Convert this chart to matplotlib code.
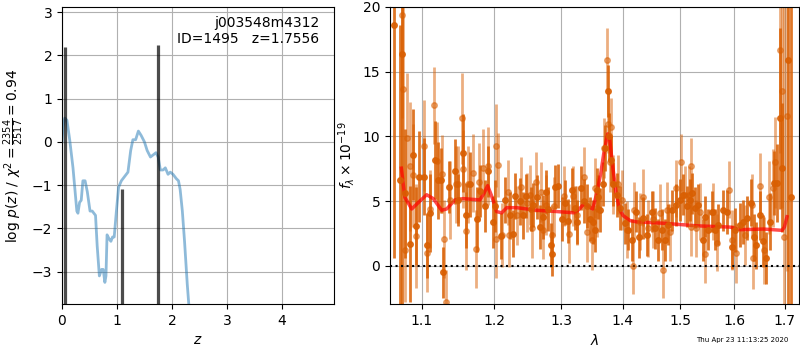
import matplotlib
matplotlib.use('Agg')
import matplotlib.pyplot as plt
from matplotlib.ticker import FixedLocator, FormatStrFormatter, NullLocator

# redshift probability
z_grid = [0.0, 0.02, 0.05, 0.09, 0.14, 0.2, 0.27, 0.29, 0.32, 0.35, 0.38, 0.42,
          0.46, 0.51, 0.55, 0.61, 0.64, 0.68, 0.72, 0.75, 0.78, 0.8, 0.82, 0.86,
          0.89, 0.92, 0.95, 0.99, 1.03, 1.08, 1.14, 1.2, 1.25, 1.29, 1.34, 1.39,
          1.44, 1.5, 1.55, 1.61, 1.66, 1.71, 1.75, 1.79, 1.84, 1.88, 1.93, 1.97,
          2.02, 2.08, 2.12, 2.15, 2.19, 2.23, 2.28, 2.31]
log_pz = [0.0, 0.35, 0.55, 0.5, 0.05, -0.6, -1.6, -1.65, -1.4, -1.35, -0.9, -0.9,
          -1.15, -1.6, -1.6, -1.7, -2.4, -3.1, -2.95, -2.95, -3.25, -3.1, -2.15, -2.25,
          -2.3, -2.2, -2.2, -1.6, -1.05, -0.9, -0.8, -0.7, -0.2, 0.05, 0.05, 0.25,
          0.15, 0.0, -0.2, -0.35, -0.3, -0.25, -0.35, -0.65, -0.65, -0.6, -0.75, -0.7,
          -0.75, -0.85, -0.9, -1.1, -1.6, -2.3, -3.3, -3.8]
peak_z = [0.06, 1.085, 1.7556]
peak_top = [2.2, -1.1, 2.25]

# spectrum, first beam (darker)
dark_wave = [1.0639, 1.0712, 1.0741, 1.0784, 1.0849, 1.0884, 1.0928, 1.096, 1.103, 1.107,
             1.1106, 1.1182, 1.1219, 1.1251, 1.1288, 1.1369, 1.1447, 1.1483, 1.1553, 1.16,
             1.1656, 1.1749, 1.1796, 1.1866, 1.1903, 1.1984, 1.2008, 1.209, 1.2155, 1.2228,
             1.2268, 1.2302, 1.2376, 1.2425, 1.2465, 1.2535, 1.2575, 1.2626, 1.2676, 1.2717,
             1.2768, 1.2803, 1.284, 1.2855, 1.2907, 1.2958, 1.3011, 1.3062, 1.3114, 1.3166,
             1.3219, 1.3256, 1.331, 1.3362, 1.3416, 1.3459, 1.3513, 1.354, 1.3567, 1.3594,
             1.3622, 1.3665, 1.3703, 1.3758, 1.3775, 1.3798, 1.3842, 1.3898, 1.3953, 1.4037,
             1.4093, 1.415, 1.4223, 1.428, 1.4348, 1.4417, 1.4493, 1.455, 1.4609, 1.4668,
             1.4727, 1.4786, 1.4845, 1.4923, 1.4993, 1.5053, 1.5114, 1.5174, 1.5205, 1.5265,
             1.5326, 1.5407, 1.545, 1.5512, 1.5574, 1.5636, 1.5699, 1.5793, 1.5858, 1.5953,
             1.6017, 1.61, 1.6177, 1.6255, 1.6321, 1.6386, 1.6425, 1.6491, 1.6558, 1.6624,
             1.6691, 1.6772, 1.6841, 1.6895, 1.6943, 1.7059, 1.7115]
dark_flux = [18.6, 6.6, 16.4, 5.6, 1.7, 8.6, 3.1, 6.9, 6.9, 1.6,
             4.1, 8.2, 6.6, 6.6, -0.5, 6.1, 7.3, 5.1, 8.7, 3.9,
             6.3, 3.6, 5.8, 4.6, 7.3, 3.4, 4.6, 2.3, 5.1, 3.9,
             2.5, 5.4, 5.0, 3.9, 5.4, 4.4, 4.7, 5.3, 3.0, 3.8,
             5.7, 4.4, 1.6, 0.9, 6.1, 6.2, 3.6, 4.9, 3.5, 5.9,
             4.5, 3.4, 6.0, 5.0, 4.6, 3.6, 3.4, 2.8, 5.9, 5.3,
             4.3, 6.3, 9.1, 13.5, 10.0, 8.2, 6.3, 5.5, 4.5, 3.3,
             2.8, 2.0, 4.2, 2.2, 3.7, 2.4, 4.2, 2.9, 2.0, 2.8,
             2.0, 3.2, 4.3, 4.7, 5.1, 5.5, 4.6, 5.1, 5.6, 4.5,
             4.7, 2.0, 3.8, 2.8, 4.2, 2.8, 3.2, 4.3, 4.2, 1.5,
             2.8, 3.2, 3.4, 3.7, 4.9, 2.2, 1.6, 3.9, 1.9, 0.6,
             3.4, 6.4, 6.4, 11.4, 7.6, 15.9, 5.3]
dark_err = [18, 12, 20, 5, 4.5, 3.5, 3, 3.5, 3, 2.5,
            3, 3, 3, 2.5, 2, 2, 2.5, 2, 3, 2.5,
            2.5, 2.5, 2, 2, 2, 2, 2, 1.8, 1.8, 1.8,
            1.8, 1.8, 1.8, 1.8, 1.7, 1.7, 1.7, 1.7, 1.7, 1.7,
            1.7, 1.7, 1.7, 1.7, 1.7, 1.7, 1.7, 1.7, 1.7, 1.7,
            1.7, 1.7, 1.7, 1.7, 1.7, 1.7, 1.7, 1.7, 1.7, 1.7,
            1.7, 1.7, 1.8, 2.0, 1.8, 1.8, 1.7, 1.7, 1.7, 1.6,
            1.6, 1.6, 1.6, 1.6, 1.6, 1.6, 1.6, 1.6, 1.6, 1.6,
            1.6, 1.6, 1.6, 1.6, 1.6, 1.6, 1.6, 1.6, 1.6, 1.6,
            1.6, 1.6, 1.6, 1.6, 1.6, 1.6, 1.6, 1.6, 1.7, 1.7,
            1.7, 1.7, 1.7, 1.7, 1.8, 1.8, 1.8, 1.9, 2.0, 2.0,
            2.2, 2.5, 3.0, 7, 5, 25, 20]

# spectrum, second beam (lighter)
light_wave = [1.074, 1.0755, 1.0784, 1.081, 1.0841, 1.0884, 1.0928, 1.1026, 1.1074, 1.1106,
              1.1169, 1.121, 1.1274, 1.1301, 1.132, 1.1378, 1.1455, 1.1493, 1.1549, 1.1555,
              1.1595, 1.1632, 1.1702, 1.1734, 1.1782, 1.1842, 1.1913, 1.2022, 1.202, 1.2055,
              1.2106, 1.2203, 1.2208, 1.2327, 1.2386, 1.2485, 1.2525, 1.255, 1.2615, 1.2686,
              1.2717, 1.2768, 1.2855, 1.2891, 1.3047, 1.3129, 1.3182, 1.3256, 1.3362, 1.3405,
              1.3487, 1.354, 1.3567, 1.3685, 1.3742, 1.3745, 1.3785, 1.3798, 1.3842, 1.3925,
              1.398, 1.4065, 1.4167, 1.4189, 1.4291, 1.4337, 1.4434, 1.452, 1.4638, 1.4684,
              1.4768, 1.4815, 1.4923, 1.5005, 1.5082, 1.5161, 1.5186, 1.5192, 1.5283, 1.5357,
              1.545, 1.5593, 1.5667, 1.5907, 1.5953, 1.6036, 1.6209, 1.634, 1.6372, 1.6501,
              1.6584, 1.6671, 1.6759, 1.6804, 1.6895, 1.6943, 1.699, 1.7043]
light_flux = [19.4, 13.7, 1.2, 9.9, 7.7, 7.0, 2.3, 9.3, 1.0, 4.4,
              12.4, 8.1, 7.1, 2.1, -2.8, 5.1, 6.3, 6.3, 11.4, 7.5,
              2.7, 6.3, 7.2, 1.3, 6.5, 7.6, 7.7, 9.3, 2.1, 7.8,
              2.4, 5.7, 2.4, 3.9, 6.1, 4.9, 5.5, 2.9, 6.5, 5.7,
              2.8, 4.7, 2.4, 4.6, 5.4, 2.5, 5.4, 3.9, 6.9, 2.6,
              2.0, 6.0, 4.5, 9.1, 15.9, 11.0, 8.0, 10.7, 6.3, 6.3,
              5.1, 2.8, 0.0, 4.3, 3.4, 5.3, 2.9, 3.6, 4.1, -0.3,
              4.3, 2.6, 6.0, 8.0, 5.5, 5.5, 7.7, 3.0, 2.9, 4.2,
              0.9, 4.2, 1.8, 5.9, 2.0, 1.0, 2.4, 4.7, 0.6, 6.2,
              1.2, 5.3, 6.0, 8.0, 16.7, 13.5, 2.2, 11.6]
light_err = [8, 7, 4, 5, 5, 4, 4, 3.5, 3, 3,
             3, 3, 3, 3, 2.5, 3, 3, 3, 3.5, 3,
             3, 3, 3, 3, 3, 3, 3, 3.2, 3, 2.5,
             2.5, 2.5, 2.5, 2.3, 2.3, 2.3, 2.3, 2.3, 2.3, 2.3,
             2.3, 2.3, 2.3, 2.3, 2.3, 2.3, 2.3, 2.3, 2.3, 2.3,
             2.3, 2.3, 2.3, 2.3, 2.5, 2.3, 2.3, 2.3, 2.3, 2.3,
             2.3, 2.2, 2.2, 2.2, 2.2, 2.2, 2.2, 2.2, 2.2, 2.2,
             2.2, 2.2, 2.2, 2.2, 2.2, 2.2, 2.2, 2.2, 2.2, 2.2,
             2.2, 2.2, 2.2, 2.2, 2.3, 2.3, 2.3, 2.4, 2.4, 2.5,
             2.6, 2.8, 3, 3.5, 8, 9, 20, 12]

# best-fit model
model_wave = [1.0735, 1.078, 1.0869, 1.0956, 1.1066, 1.1154, 1.1266, 1.1334, 1.1448, 1.1561,
              1.1795, 1.1852, 1.1905, 1.1962, 1.2034, 1.2107, 1.218, 1.2328, 1.2626, 1.2933,
              1.3219, 1.3287, 1.3362, 1.3432, 1.3503, 1.3567, 1.3632, 1.3686, 1.3747, 1.3775,
              1.383, 1.3887, 1.3943, 1.4, 1.4121, 1.4234, 1.4694, 1.5295, 1.5919, 1.6111,
              1.6571, 1.6943, 1.699, 1.7043]
model_flux = [7.55, 5.3, 4.4, 4.9, 5.5, 5.2, 4.3, 4.4, 5.1, 5.2,
              5.1, 5.6, 6.2, 5.4, 4.2, 4.1, 4.5, 4.5, 4.3, 4.2,
              4.1, 4.4, 4.8, 4.6, 4.4, 5.6, 7.1, 8.8, 10.2, 10.0,
              7.7, 5.6, 4.4, 3.9, 3.5, 3.4, 3.3, 3.1, 3.0, 2.8,
              2.85, 2.75, 3.0, 3.8]
wave_ticks = [1.1, 1.2, 1.3, 1.4, 1.5, 1.6, 1.7]

orange = '#d95f02'

fig = plt.figure(figsize=(8, 3.5), dpi=100)

ax1 = fig.add_axes([0.0775, 0.1314, 0.34, 0.8486])
ax1.plot(z_grid, log_pz, color='C0', alpha=0.5, lw=2)
ax1.vlines(peak_z, -4, peak_top, color='k', alpha=0.7, lw=2.3)
ax1.set_xlim(0, 4.95)
ax1.set_ylim(-3.75, 3.12)
ax1.grid()
ax1.text(0.945, 0.97, 'j003548m4312\nID=1495   z=1.7556', ha='right', va='top',
         transform=ax1.transAxes, fontsize=10)
ax1.set_xlabel(r'$z$')
ax1.set_ylabel(r'$\log\,p(z)$' + ' / ' + r'$\chi^2=\frac{2354}{2517}=0.94$')

ax2 = fig.add_axes([0.4875, 0.1314, 0.51125, 0.8486])
ax2.errorbar(light_wave, light_flux, light_err, marker='o', ms=4, ls='none',
             color=orange, alpha=0.5, elinewidth=2)
ax2.errorbar(dark_wave, dark_flux, dark_err, marker='o', ms=4, ls='none',
             color=orange, alpha=0.85, elinewidth=2)
ax2.plot(model_wave, model_flux, color='r', alpha=0.7, lw=2.5)
ax2.axhline(0, color='k', ls=':', lw=1.5)
ax2.set_xscale('log')
ax2.xaxis.set_major_locator(FixedLocator(wave_ticks))
ax2.xaxis.set_major_formatter(FormatStrFormatter('%.1f'))
ax2.xaxis.set_minor_locator(NullLocator())
ax2.set_xlim(1.059, 1.729)
ax2.set_ylim(-2.94, 20)
ax2.grid()
ax2.set_xlabel(r'$\lambda$')
ax2.set_ylabel(r'$f_\lambda \times 10^{-19}$')

fig.text(0.985, 0.022, 'Thu Apr 23 11:13:25 2020', ha='right', fontsize=5)

fig.savefig('out.png', dpi=100)
